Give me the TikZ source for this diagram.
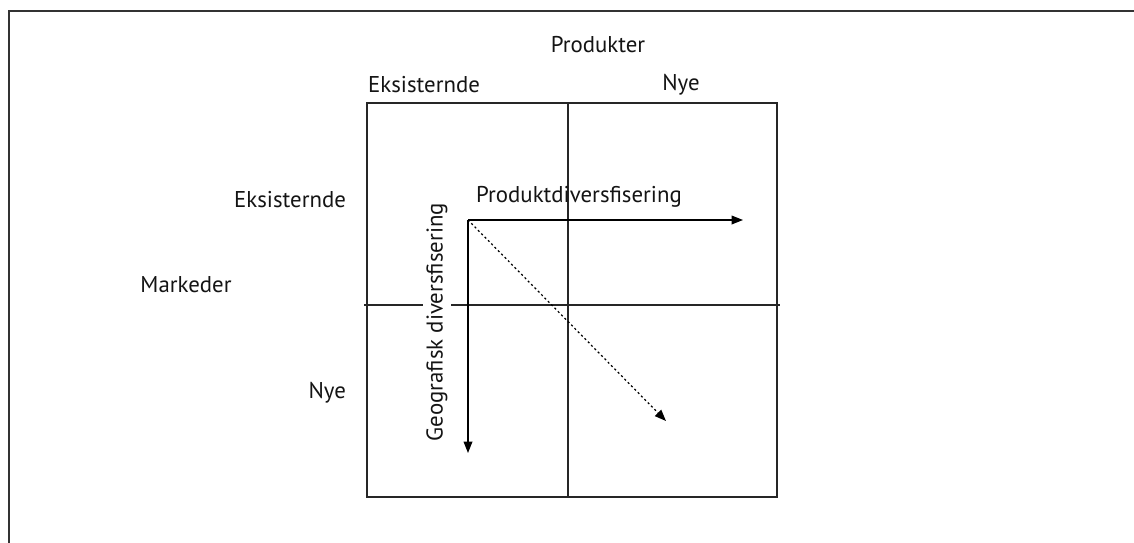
\documentclass[tikz,border=0pt]{standalone}
\usepackage{fontspec}
\setmainfont{PT Sans}
\usepackage{tikz}
\usetikzlibrary{arrows.meta, calc, positioning}

\begin{document}
\begin{tikzpicture}[x=0.02cm, y=-0.02cm,
    lbl/.style={font=\fontsize{13}{15}\selectfont, text=black!92, inner sep=1pt},
    grid/.style={line width=0.7pt, black!85},
    pil/.style={line width=0.7pt, -{Triangle[length=6.5pt, width=5pt]}}]
    \useasboundingbox (0, 0) rectangle (1134, 542);

    % ramme
    \draw[line width=1.4pt, black!80] (9, 11) rectangle (1145, 560);

    % matrise
    \coordinate (tl) at (367, 103);
    \coordinate (br) at (777, 497);
    \draw[grid] (tl) rectangle (br);
    \draw[grid] (568, 103) -- (568, 497);
    \draw[grid] (364, 305) -- (780, 305);

    % overskrifter
    \node[lbl] (prod) at (598, 45) {Produkter};
    \node[lbl] (eks1) at (424, 85) {Eksisternde};
    \node[lbl] (nye1) at (681, 85) {Nye};
    \node[lbl, anchor=east] (eks2) at (348, 200) {Eksisternde};
    \node[lbl] (mark) at (186, 285) {Markeder};
    \node[lbl, anchor=east] (nye2) at (348, 393) {Nye};

    % piler
    \coordinate (start) at (468, 220);
    \coordinate (hslutt) at (743, 220);
    \coordinate (vslutt) at (468, 453);
    \coordinate (dslutt) at (666, 421);

    \draw[pil] (start) -- (hslutt);
    \node[lbl] (pdiv) at (579, 197) {Produktdiversfisering};
    \node[lbl, fill=white, rotate=90, inner sep=2pt] (gdiv) at (437, 322) {Geografisk diversfisering};
    \draw[pil] (start) -- (vslutt);
    \draw[pil, dash pattern=on 1.2pt off 1.5pt] (start) -- (dslutt);
\end{tikzpicture}
\end{document}
